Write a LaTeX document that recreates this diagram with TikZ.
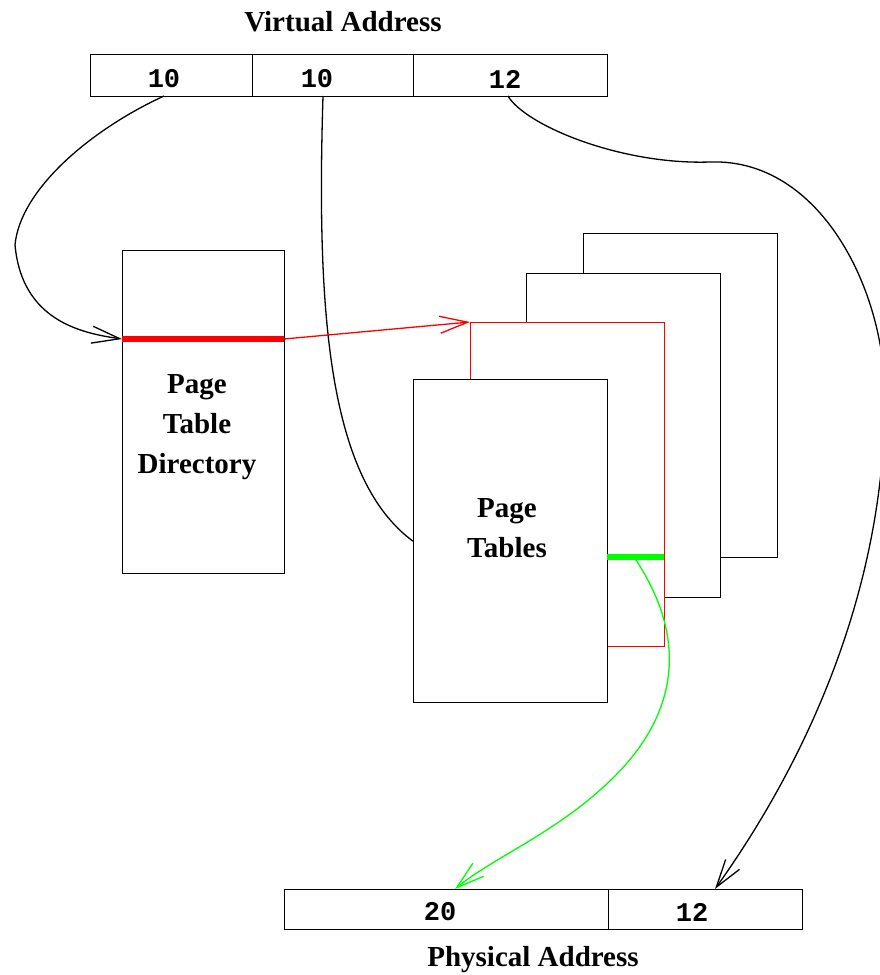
\documentclass[tikz,border=0pt]{standalone}
\usepackage{fontspec}
\setmainfont{Liberation Serif}
\setmonofont{Liberation Mono}
\usetikzlibrary{arrows.meta}
\begin{document}
\begin{tikzpicture}[x=1pt,y=-1pt,
  box/.style={draw=black, line width=1.4pt, fill=white, inner sep=0pt, anchor=north west},
  lbl/.style={font=\fontsize{29}{40}\selectfont\bfseries, align=center, inner sep=0pt},
  num/.style={font=\fontsize{27}{30}\selectfont\ttfamily\bfseries, inner sep=0pt},
  conn/.style={line width=1.3pt},
  tip/.style={-{Straight Barb[length=28pt,width=17pt,line width=1.3pt]}}
]
\useasboundingbox (0,0) rectangle (880,975);

% Virtual address
\node[lbl] (vatitle) at (343,22) {Virtual Address};
\node[box, minimum width=162pt, minimum height=42pt] (va1) at (90,54) {};
\node[box, minimum width=161pt, minimum height=42pt] (va2) at (252,54) {};
\node[box, minimum width=194pt, minimum height=42pt] (va3) at (413,54) {};
\node[num] (va1t) at (164,79) {10};
\node[num] (va2t) at (317,79) {10};
\node[num] (va3t) at (505,79) {12};

% Page table directory
\node[box, minimum width=162pt, minimum height=323pt] (ptd) at (122,250) {};
\node[lbl] (ptdt) at (197,427) {Page\\Table\\Directory};
\coordinate (ptdL) at (122,339);
\coordinate (ptdR) at (284,339);
\draw[red, line width=6.5pt] (ptdL) -- (ptdR);

% Page tables stack
\node[box, minimum width=194pt, minimum height=324pt] (pt4) at (583,233) {};
\node[box, minimum width=194pt, minimum height=324pt] (pt3) at (526,273) {};
\node[box, draw=red, minimum width=194pt, minimum height=324pt] (pt2) at (470,322) {};
\node[box, minimum width=194pt, minimum height=323pt] (pt1) at (413,379) {};
\node[lbl] (pt1t) at (507,528) {Page\\Tables};
\coordinate (ptgL) at (607,557);
\coordinate (ptgR) at (664,557);
\draw[green, line width=6.5pt] (ptgL) -- (ptgR);

% Physical address
\node[box, minimum width=324pt, minimum height=40pt] (pa1) at (284,889) {};
\node[box, minimum width=194pt, minimum height=40pt] (pa2) at (608,889) {};
\node[num] (pa1t) at (440,912) {20};
\node[num] (pa2t) at (692,912) {12};
\node[lbl] (patitle) at (533,960) {Physical Address};

% connectors
\coordinate (s1) at (164,96);
\coordinate (s2) at (323,96);
\coordinate (s3) at (508,96);
\coordinate (g0) at (634,557);
\coordinate (e3) at (715,889);
\coordinate (eg) at (455,889);

\draw[conn, tip] (s1) .. controls (90,130) and (20,190) .. (15,245)
  .. controls (22,320) and (80,333) .. (ptdL);
\draw[conn] (s2) .. controls (316,320) and (330,480) .. (pt1.west);
\draw[red, conn, tip] (ptdR) -- (pt2.north west);
\draw[conn, tip] (s3) .. controls (525,125) and (620,165) .. (710,162)
  .. controls (820,158) and (886,290) .. (885,400)
  .. controls (884,600) and (800,770) .. (e3);
\draw[green, conn, tip] (g0) .. controls (690,640) and (680,720) .. (600,790)
  .. controls (550,835) and (490,860) .. (eg);
\end{tikzpicture}
\end{document}
